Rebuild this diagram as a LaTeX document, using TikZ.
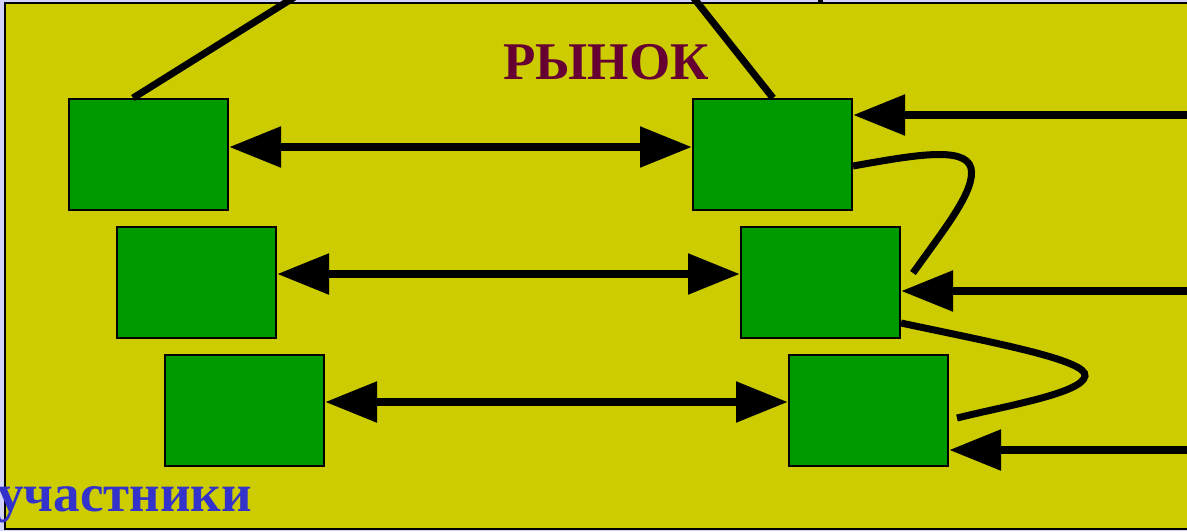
\documentclass[tikz,border=0pt]{standalone}
\usepackage{fontspec}
\setmainfont{Liberation Serif}
\usetikzlibrary{arrows.meta}
\definecolor{bgout}{RGB}{210,210,250}
\definecolor{field}{RGB}{204,204,0}
\definecolor{boxgreen}{RGB}{0,153,0}
\definecolor{maroon}{RGB}{102,0,51}
\definecolor{textblue}{RGB}{51,51,204}
\tikzset{
  box/.style={draw=black, line width=2pt, fill=boxgreen, minimum width=159pt, minimum height=111pt, inner sep=0pt},
  thick line/.style={draw=black, line width=8.5pt},
  dbl/.style={thick line, {Triangle[length=52pt,width=39pt]}-{Triangle[length=52pt,width=39pt]}},
  inarr/.style={thick line, -{Triangle[length=52pt,width=39pt]}},
  curve/.style={draw=black, line width=7pt},
}
\begin{document}
\begin{tikzpicture}[x=1pt,y=-1pt]
\useasboundingbox (0,0) rectangle (1187,531);
\fill[bgout] (0,0) rectangle (1187,531);
\filldraw[fill=field, draw=black, line width=2pt] (5,3) rectangle (1195,529);
\fill[black] (818,0) rectangle (823,3);
% boxes
\node[box] (a1) at (148.5,154.5) {};
\node[box] (a2) at (196.5,282.5) {};
\node[box] (a3) at (244.5,410.5) {};
\node[box] (b1) at (772.5,154.5) {};
\node[box] (b2) at (820.5,282.5) {};
\node[box] (b3) at (868.5,410.5) {};
% texts
\node[font=\bfseries\fontsize{53}{53}\selectfont, text=maroon, inner sep=0pt, anchor=base] (title) at (606,79) {РЫНОК};
\node[font=\bfseries\fontsize{53}{53}\selectfont, text=textblue, inner sep=0pt, anchor=base west] (part) at (-3,511) {участники};
% double arrows
\draw[dbl] (a1.east |- 0,147) coordinate (l1) -- (b1.west |- l1);
\draw[dbl] (a2.east |- 0,274) coordinate (l2) -- (b2.west |- l2);
\draw[dbl] (a3.east |- 0,402) coordinate (l3) -- (b3.west |- l3);
% incoming arrows
\coordinate (r1) at (1195,115);
\coordinate (r2) at (1195,291);
\coordinate (r3) at (1195,450);
\draw[inarr] (r1) -- (b1.east |- r1);
\draw[inarr] (r2) -- (b2.east |- r2);
\draw[inarr] (r3) -- (b3.east |- r3);
% diagonal lines
\coordinate (d1s) at (133,98);
\coordinate (d1e) at (301,-7);
\coordinate (d2s) at (773,98);
\coordinate (d2e) at (689,-8);
\draw[curve] (d1s) -- (d1e);
\draw[curve] (d2s) -- (d2e);
% curves
\coordinate (c1s) at (853,166);
\coordinate (c1e) at (913,273);
\coordinate (c2s) at (901,323);
\coordinate (c2e) at (957,418);
\draw[curve] (c1s) .. controls (915,155) and (965,146) .. (971,168) .. controls (976,190) and (945,228) .. (c1e);
\draw[curve] (c2s) .. controls (990,342) and (1088,360) .. (1085,376) .. controls (1082,393) and (1010,405) .. (c2e);
\end{tikzpicture}
\end{document}
